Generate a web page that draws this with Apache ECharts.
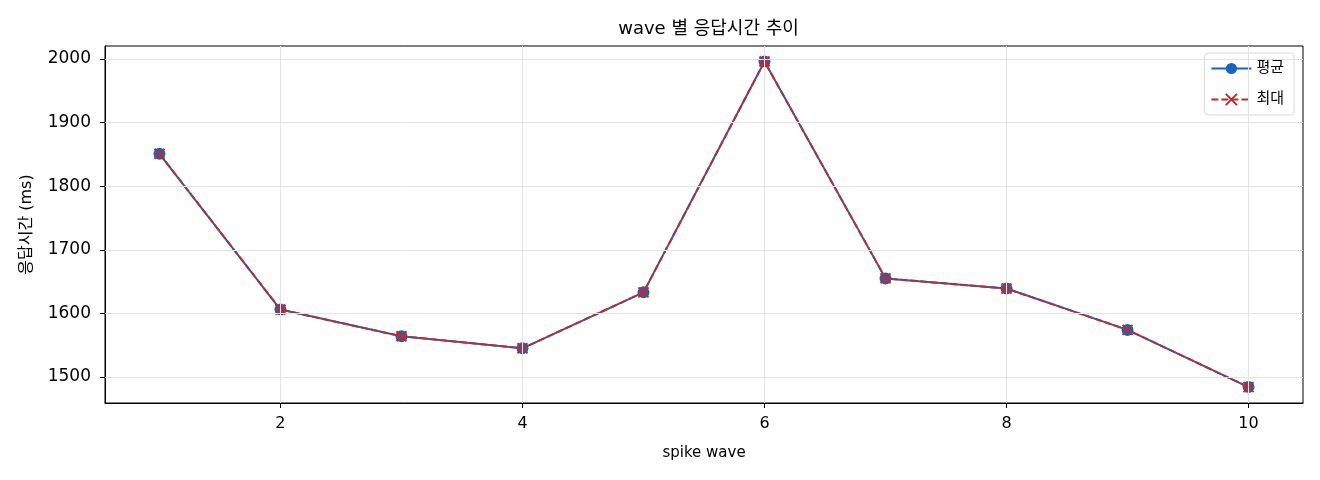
<!DOCTYPE html>
<html>
<head>
<meta charset="utf-8">
<script src="https://cdn.jsdelivr.net/npm/echarts@6/dist/echarts.min.js"></script>
<style>
html, body { margin: 0; padding: 0; background: #fff; }
#main { width: 1320px; height: 480px; }
</style>
</head>
<body>
<div id="main"></div>
<script>
// wave 번호와 응답시간(ms)
var waves = [1, 2, 3, 4, 5, 6, 7, 8, 9, 10];
var avgMs = [1851, 1606, 1564, 1545, 1633, 1996, 1655, 1639, 1574, 1484];
var maxMs = [1851, 1606, 1564, 1545, 1633, 1996, 1655, 1639, 1574, 1484];
var xTicks = [2, 4, 6, 8, 10];
var yTicks = [1500, 1600, 1700, 1800, 1900, 2000];

var FONT = '"DejaVu Sans", "Noto Sans CJK KR", sans-serif';

function pairs(xs, ys){
	var out = [];
	for (var i = 0; i < xs.length; i++) out.push([xs[i], ys[i]]);
	return out;
}

var gridLines = [];
xTicks.forEach(function(v){ gridLines.push({ xAxis: v }); });
yTicks.forEach(function(v){ gridLines.push({ yAxis: v }); });

var myChart = echarts.init(document.getElementById('main'), null, { renderer: 'canvas' });
var option = {
	backgroundColor: '#fff',
	animation: false,
	title: {
		text: 'wave 별 응답시간 추이',
		left: 703.5,
		textAlign: 'center',
		top: 15,
		textStyle: { fontFamily: FONT, fontSize: 18, fontWeight: 'normal', color: '#000' }
	},
	legend: {
		orient: 'vertical',
		right: 26,
		top: 53,
		padding: [8, 10, 8, 6],
		itemWidth: 40,
		itemHeight: 14,
		itemGap: 16,
		backgroundColor: '#fff',
		borderColor: '#d9d9d9',
		borderWidth: 1,
		borderRadius: 4,
		textStyle: { fontFamily: FONT, fontSize: 15, color: '#000' },
		data: ['평균', '최대']
	},
	grid: {
		left: 105, right: 17, top: 46, bottom: 77,
		show: true, borderColor: '#000', borderWidth: 1
	},
	xAxis: {
		type: 'value',
		min: 0.55,
		max: 10.45,
		name: 'spike wave',
		nameLocation: 'middle',
		nameGap: 43,
		nameTextStyle: { fontFamily: FONT, fontSize: 15, color: '#000' },
		axisLine: { show: true, lineStyle: { color: '#000', width: 1 } },
		axisTick: { show: true, length: 5, lineStyle: { color: '#000' }, customValues: xTicks },
		axisLabel: { fontFamily: FONT, fontSize: 16, color: '#000', margin: 13, customValues: xTicks,
			formatter: function(v){ return String(v); } },
		splitLine: { show: false }
	},
	yAxis: {
		type: 'value',
		min: 1459,
		max: 2020.5,
		name: '응답시간 (ms)',
		nameLocation: 'middle',
		nameGap: 70,
		nameTextStyle: { fontFamily: FONT, fontSize: 16, color: '#000' },
		axisLine: { show: true, lineStyle: { color: '#000', width: 1 } },
		axisTick: { show: true, length: 5, lineStyle: { color: '#000' }, customValues: yTicks },
		axisLabel: { fontFamily: FONT, fontSize: 17, color: '#000', margin: 14, customValues: yTicks,
			formatter: function(v){ return String(v); } },
		splitLine: { show: false }
	},
	series: [
		{
			name: 'grid',
			type: 'line',
			data: [],
			z: 0,
			silent: true,
			markLine: {
				silent: true,
				symbol: 'none',
				label: { show: false },
				lineStyle: { color: '#e3e3e3', width: 1, type: 'solid' },
				emphasis: { disabled: true },
				data: gridLines
			}
		},
		{
			name: '평균',
			type: 'line',
			data: pairs(waves, avgMs),
			symbol: 'circle',
			symbolSize: 12,
			z: 2,
			itemStyle: { color: '#1565C0' },
			lineStyle: { color: '#1565C0', width: 2 }
		},
		{
			name: '최대',
			type: 'line',
			data: pairs(waves, maxMs),
			symbol: 'path://M-1,-1L1,1M1,-1L-1,1',
			symbolSize: 10,
			z: 3,
			itemStyle: { color: 'transparent', borderColor: '#C62828', borderWidth: 2 },
			lineStyle: { color: '#C62828', width: 2, type: [7, 3] }
		}
	]
};
myChart.setOption(option);
</script>
</body>
</html>
